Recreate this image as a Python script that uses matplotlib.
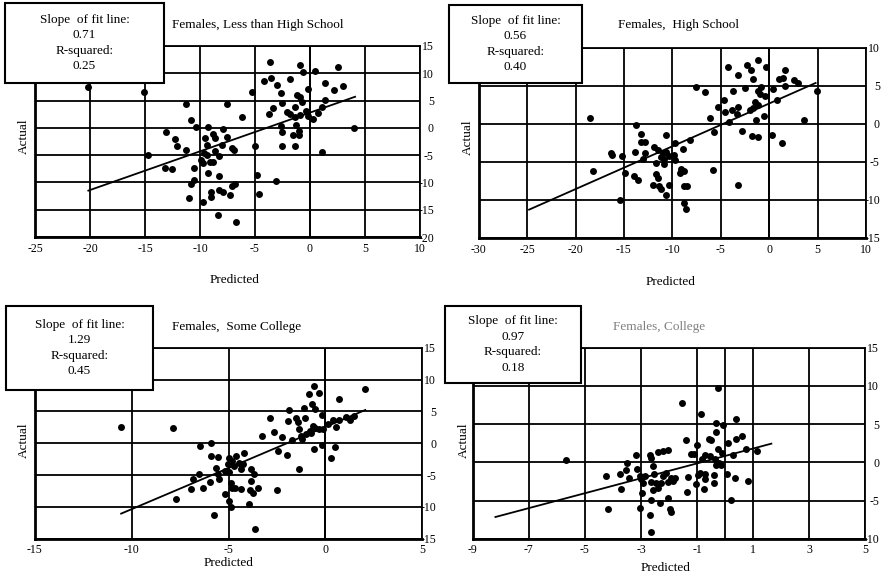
import matplotlib
matplotlib.use("Agg")
import matplotlib.pyplot as plt
from matplotlib.patches import Rectangle

plt.rcParams['font.family'] = ['Liberation Serif', 'DejaVu Serif']
plt.rcParams['axes.unicode_minus'] = False

W, H = 895, 580

# ---------------- data ----------------
titles = ["Females, Less than High School", "Females,  High School",
          "Females,  Some College", "Females, College"]
slopes = ["0.71", "0.56", "1.29", "0.97"]
rsq = ["0.25", "0.40", "0.45", "0.18"]

x1 = [-20.15, -15.06, -3.6, -0.9, 2.58, -0.6, 0.45, -4.2, -3.5, -3.0,
      -1.8, 1.4, 2.2, 3.0, -0.2, -5.3, -2.6, -1.2, -0.9, -2.5,
      1.36, -0.7, -11.3, -7.5, -3.4, -1.4, -0.4, 1.06, 0.7, -3.7,
      -2.06, -1.8, -0.9, -1.4, -0.15, 0.3, -6.2, -10.8, -1.3, -2.6,
      4.0, -10.4, -9.3, -7.9, -1.0, -2.5, -13.1, -8.8, -1.5, -1.0,
      -9.5, -8.6, -7.5, -12.3, -9.4, -5.0, -2.5, -1.4, -12.1, -7.1,
      -6.9, -11.3, -8.6, -9.6, 1.1, -14.75, -9.4, -8.3, -9.9, -9.1,
      -9.7, -8.8, -13.2, -12.5, -10.5, -9.3, -8.3, -4.8, -10.5, -10.8,
      -3.1, -6.8, -7.1, -8.3, -7.9, -9.0, -7.3, -4.6, -11.0, -9.7,
      -9.0, -8.4, -6.7, -8.0]
y1 = [7.55, 6.63, 12.1, 11.5, 11.2, 10.3, 10.5, 8.5, 9.1, 7.85,
      8.95, 8.3, 7.0, 7.7, 7.2, 6.5, 6.45, 6.0, 5.7, 4.6,
      5.1, 4.8, 4.3, 4.3, 3.7, 3.9, 3.1, 3.9, 2.8, 2.5,
      2.85, 2.5, 2.35, 2.05, 2.2, 1.6, 1.9, 1.45, 0.5, 0.4,
      -0.1, 0.2, 0.2, -0.3, -0.6, -0.8, -0.8, -1.2, -1.3, -1.4,
      -1.9, -1.9, -1.6, -2.0, -3.1, -3.3, -3.3, -3.3, -3.3, -3.6,
      -4.1, -4.1, -4.2, -4.55, -4.4, -4.95, -4.95, -5.2, -5.8, -6.2,
      -6.5, -6.3, -7.4, -7.6, -7.3, -8.2, -8.8, -8.6, -9.6, -10.2,
      -9.7, -10.2, -10.6, -11.4, -11.7, -11.7, -12.3, -12.2, -12.9, -13.5,
      -12.6, -16.0, -17.2, -3.1]

x2 = [-1.2, -2.3, -1.9, -4.3, -0.3, 1.6, -3.2, -1.7, 1.0, 1.4,
      2.6, 3.0, -7.6, -6.6, -3.7, -2.5, -1.2, -0.8, 0.4, 1.6,
      4.9, -0.9, -0.4, -4.65, 0.8, -1.5, -5.3, -3.2, -3.8, -4.55,
      -3.3, -2.0, -1.7, -1.2, -0.5, -1.4, -6.1, 3.6, -4.1, -18.5,
      -5.75, -2.8, -1.8, -1.2, 0.3, 1.3, -13.8, -10.7, -13.25, -13.25,
      -12.85, -8.2, -9.75, -11.9, -8.85, -16.35, -16.2, -15.25, -13.9, -12.85,
      -11.5, -11.0, -10.7, -11.2, -10.3, -9.8, -13.0, -10.85, -11.7, -9.75,
      -10.85, -18.2, -14.9, -14.0, -13.5, -11.7, -11.5, -9.1, -8.8, -9.2,
      -5.85, -12.05, -11.4, -11.2, -10.3, -10.7, -8.8, -8.45, -3.2, -15.4,
      -8.8, -8.55]
y2 = [8.46, 7.7, 7.15, 7.5, 7.5, 7.15, 6.4, 5.96, 5.96, 6.1,
      5.75, 5.4, 4.9, 4.2, 4.3, 4.8, 4.4, 4.9, 4.65, 4.96,
      4.3, 4.0, 3.7, 3.2, 3.1, 2.9, 2.2, 2.2, 1.8, 1.6,
      1.36, 1.9, 2.1, 2.45, 1.0, 0.57, 0.83, 0.48, 0.26, 0.8,
      -1.05, -0.97, -1.58, -1.71, -1.4, -2.5, -0.18, -1.5, -1.36, -2.37,
      -2.37, -2.06, -2.5, -3.0, -3.25, -3.8, -4.1, -4.17, -3.7, -3.8,
      -3.47, -3.8, -3.7, -4.3, -4.26, -4.1, -4.56, -4.56, -5.1, -4.8,
      -5.3, -6.2, -6.5, -6.8, -7.4, -6.6, -7.06, -5.9, -6.2, -6.5,
      -6.1, -8.07, -8.2, -8.5, -8.07, -9.4, -8.2, -8.2, -8.07, -10.05,
      -10.4, -11.14]

x3 = [-0.57, -0.35, -0.86, 2.04, 0.68, -1.9, -1.1, -0.7, -0.52, -0.19,
      -2.84, -1.95, -1.5, -1.4, -1.05, -1.38, -0.66, -0.52, -0.35, 0.12,
      0.37, 0.68, 1.06, 1.5, 1.27, 0.55, -0.8, -1.0, -1.26, -1.2,
      -1.7, -2.25, -3.27, -2.63, -10.54, -7.87, -5.9, -6.45, -0.18, 0.51,
      -0.57, -2.46, -1.98, 0.29, -5.9, -5.52, -4.99, -4.6, -4.18, -4.82,
      -4.44, -5.04, -4.23, -5.64, -4.35, -3.84, -3.66, -1.38, -6.53, -5.55,
      -4.95, -5.47, -6.84, -5.93, -3.84, -4.87, -4.82, -4.64, -4.35, -3.5,
      -3.89, -6.33, -6.93, -2.51, -3.75, -5.16, -7.7, -4.99, -4.85, -3.96,
      -5.73, -3.63, -4.7, -5.2, -0.14, -0.74]
y3 = [8.99, 7.94, 7.68, 8.46, 6.9, 5.2, 5.5, 6.1, 5.3, 4.4,
      3.9, 3.5, 4.0, 3.33, 4.0, 2.2, 2.7, 2.44, 2.2, 2.96,
      3.6, 3.65, 4.17, 4.3, 3.65, 2.55, 1.9, 1.4, 1.13, 0.7,
      0.5, 1.03, 1.13, 1.76, 2.55, 2.44, 0.08, -0.44, -0.28, -0.6,
      -0.86, -1.2, -1.9, -2.27, -2.0, -2.2, -2.27, -2.0, -1.5, -2.8,
      -3.05, -3.3, -3.3, -3.84, -4.1, -4.1, -4.8, -4.1, -4.9, -4.9,
      -4.6, -5.57, -5.57, -6.04, -5.93, -6.2, -6.98, -6.98, -7.24, -7.09,
      -7.35, -7.09, -7.14, -7.35, -7.87, -8.03, -8.71, -9.08, -10.0, -9.6,
      -11.3, -13.4, -3.58, -4.36, 2.2, 1.66]

x4 = [-0.27, -1.52, -0.85, -0.31, -0.07, 0.4, -0.33, -0.57, -0.49, 0.61,
      0.4, 0.11, -1.4, -1.0, -0.25, -0.11, 0.28, 0.73, 1.14, -1.2,
      -1.1, -0.73, -0.55, -0.81, -0.37, -0.31, -0.13, -0.23, -2.39, -2.2,
      -2.04, -2.69, -3.19, -2.63, -5.67, -3.5, -2.57, -3.13, -3.52, -3.74,
      -4.24, -3.41, -3.0, -2.87, -2.54, -2.2, -2.1, -1.92, -1.77, -2.63,
      -2.45, -2.27, -2.04, -1.86, -2.93, -2.39, -2.57, -1.32, -0.96, -0.73,
      -0.7, -0.39, 0.08, 0.35, 0.82, -1.05, -0.41, -0.76, -3.7, -2.96,
      -1.35, -2.04, -2.63, -2.33, 0.2, -4.18, -3.05, -1.98, -1.92, -2.66,
      -2.63, -0.9, -3.05]
y4 = [9.68, 7.8, 6.36, 5.19, 4.88, 5.62, 3.96, 3.09, 2.87, 3.44,
      3.0, 2.57, 2.92, 2.26, 1.7, 1.17, 0.91, 1.7, 1.48, 1.13,
      1.13, 0.91, 0.82, 0.39, 0.39, -0.4, -0.4, -0.14, 1.35, 1.48,
      1.56, 0.91, 0.95, 0.52, 0.3, -0.05, -0.49, -0.84, -1.05, -1.58,
      -1.8, -2.01, -2.23, -1.8, -1.58, -1.8, -1.36, -2.01, -2.01, -2.58,
      -2.67, -2.67, -2.58, -2.45, -2.67, -3.32, -3.63, -1.93, -1.71, -1.49,
      -2.23, -1.71, -1.58, -2.01, -2.45, -2.8, -2.67, -3.45, -3.54, -3.98,
      -3.85, -4.63, -4.98, -5.37, -4.98, -6.07, -5.98, -6.16, -6.46, -6.9,
      -9.08, -1.36, -1.8]

fit_x = [[-20.15, 4.1], [-24.8, 4.8], [-10.54, 2.06], [-8.19, 1.65]]
fit_y = [[-11.5, 5.7], [-11.27, 5.4], [-11.06, 5.22], [-7.16, 2.44]]

xticks = [list(range(-25, 11, 5)), list(range(-30, 11, 5)),
          list(range(-15, 6, 5)), list(range(-9, 6, 2))]
yticks = [list(range(-20, 16, 5)), list(range(-15, 11, 5)),
          list(range(-15, 16, 5)), list(range(-10, 16, 5))]

xs = [x1, x2, x3, x4]
ys = [y1, y2, y3, y4]

# ---------------- layout (pixels) ----------------
axes_px = [(35, 420, 46, 237), (478.7, 866, 48, 238),
           (34.7, 422.3, 347.7, 538.7), (472.7, 865.3, 347.7, 538.7)]
box_px = [(5, 164, 3, 83), (449, 582, 5, 83), (6, 153, 306, 390), (445, 581, 306, 383)]
title_px = [(258, 25), (679, 25), (237, 327), (659, 327)]
title_col = ['black', 'black', 'black', '#808080']
ylab_px = [(24, 136), (468, 137), (24, 440), (464, 440)]
xlab_px = [(235, 280), (671, 282), (229, 563), (666, 568)]


def F(x, y):
    return x / W, 1 - y / H


fig = plt.figure(figsize=(W / 100, H / 100), dpi=100)
fs = 9.5

for i in range(4):
    l, r, t, b = axes_px[i]
    ax = fig.add_axes([l / W, 1 - b / H, (r - l) / W, (b - t) / H])
    ax.set_xlim(xticks[i][0], xticks[i][-1])
    ax.set_ylim(yticks[i][0], yticks[i][-1])
    ax.set_xticks(xticks[i])
    ax.set_yticks(yticks[i])
    ax.set_xticklabels([str(v) for v in xticks[i]], fontsize=8.5)
    ax.yaxis.tick_right()
    ax.set_yticklabels([str(v) for v in yticks[i]], fontsize=8.5, ha='right')
    ax.tick_params(axis='y', length=0, pad=10)
    ax.tick_params(axis='x', length=0, pad=4)
    ax.grid(True, color='black', lw=1.3)
    ax.axvline(0, color='black', lw=1.3, zorder=1)
    ax.set_axisbelow(True)
    for s in ax.spines.values():
        s.set_linewidth(1.3)
    ax.spines['left'].set_linewidth(2.0)
    ax.spines['bottom'].set_linewidth(2.0)
    ax.plot(xs[i], ys[i], 'o', color='black', ms=5.0, mew=0, zorder=3)
    ax.plot(fit_x[i], fit_y[i], '-', color='black', lw=1.3, zorder=3)

    bl, br, bt, bb = box_px[i]
    fig.add_artist(Rectangle((bl / W, 1 - bb / H), (br - bl) / W, (bb - bt) / H,
                             transform=fig.transFigure, facecolor='white',
                             edgecolor='black', lw=1.5, zorder=10))
    cx, cy = F((bl + br) / 2, (bt + bb) / 2)
    fig.text(cx, cy, "Slope  of fit line:\n" + slopes[i] + "\nR-squared:\n" + rsq[i],
             ha='center', va='center', fontsize=fs, linespacing=1.38, zorder=11)
    tx, ty = F(*title_px[i])
    fig.text(tx, ty, titles[i], ha='center', va='center', fontsize=fs, color=title_col[i])
    lx, ly = F(*ylab_px[i])
    fig.text(lx, ly, "Actual", ha='center', va='center', rotation=90, fontsize=fs)
    px_, py_ = F(*xlab_px[i])
    fig.text(px_, py_, "Predicted", ha='center', va='center', fontsize=fs)

fig.savefig("out.png", dpi=100)
